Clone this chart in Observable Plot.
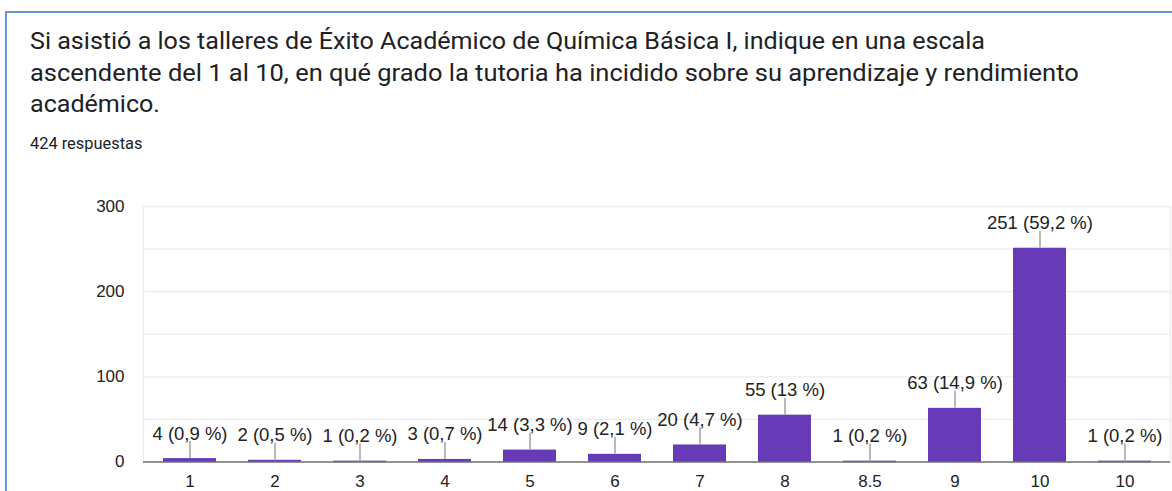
<!DOCTYPE html>
<html>
<head>
<meta charset="utf-8">
<script src="https://cdn.jsdelivr.net/npm/d3@7"></script>
<script src="https://cdn.jsdelivr.net/npm/@observablehq/plot@0.6"></script>
<style>
  html, body { margin: 0; padding: 0; background: #fff; }
  body { width: 1172px; height: 491px; overflow: hidden; position: relative; }
  #frame { position: absolute; left: 5px; top: 11px; width: 1200px; height: 520px;
           border-left: 2px solid #6895d6; border-top: 2px solid #6895d6; }
  #title { position: absolute; left: 30px; top: 26px; font-family: Roboto, sans-serif;
           font-size: 23.5px; line-height: 31.5px; color: #202124; white-space: nowrap; }
  #title div { transform-origin: 0 0; }
  #sub { position: absolute; left: 30px; top: 134px; font-family: Roboto, sans-serif;
         font-size: 16.4px; color: #202124; white-space: nowrap; }
  #chart { position: absolute; left: 0; top: 190px; }
</style>
</head>
<body>
<div id="frame"></div>
<div id="title">
  <div style="transform: scaleX(1.067)">Si asistió a los talleres de Éxito Académico de Química Básica I, indique en una escala</div>
  <div style="transform: scaleX(1.083)">ascendente del 1 al 10, en qué grado la tutoria ha incidido sobre su aprendizaje y rendimiento</div>
  <div style="transform: scaleX(1.067)">académico.</div>
</div>
<div id="sub">424 respuestas</div>
<div id="chart"></div>
<script>
const tickLabels = ["1", "2", "3", "4", "5", "6", "7", "8", "8.5", "9", "10", "10"];
const counts = [4, 2, 1, 3, 14, 9, 20, 55, 1, 63, 251, 1];
const percents = ["0,9", "0,5", "0,2", "0,7", "3,3", "2,1", "4,7", "13", "0,2", "14,9", "59,2", "0,2"];
const yTicks = [0, 100, 200, 300];
const gridValues = [50, 100, 150, 200, 250, 300];

const data = tickLabels.map((t, i) => ({ key: i, label: t, value: counts[i], pct: percents[i] }));

const chart = Plot.plot({
  width: 1172,
  height: 301,
  marginLeft: 143,
  marginRight: 2,
  marginTop: 16,
  marginBottom: 29.5,
  style: { fontFamily: "'Liberation Sans', Arial, sans-serif", fontSize: "17px", background: "transparent", color: "#222" },
  x: { type: "band", domain: data.map(d => d.key), paddingInner: 0.38, paddingOuter: 0.2, tickFormat: i => tickLabels[i], tickSize: 0, tickPadding: 13, label: null },
  y: { domain: [0, 300], ticks: yTicks, tickSize: 0, tickPadding: 19, label: null },
  marks: [
    Plot.ruleY(gridValues, { stroke: "#ebebeb", strokeWidth: 1.2 }),
    Plot.frame({ stroke: "#ebebeb", strokeWidth: 1.2 }),
    Plot.barY(data, { x: "key", y: "value", fill: "#673ab7" }),
    Plot.ruleY([0], { stroke: "#333", strokeWidth: 1.2 }),
    Plot.ruleX(data, { x: "key", y1: "value", y2: d => d.value + 20, stroke: "#a8a8a8", strokeWidth: 1.6 }),
    Plot.text(data, { x: "key", y: "value", text: d => `${d.value} (${d.pct} %)`, dy: -25, fill: "#222", fontSize: 18.5 })
  ]
});
document.getElementById("chart").appendChild(chart);
</script>
</body>
</html>
